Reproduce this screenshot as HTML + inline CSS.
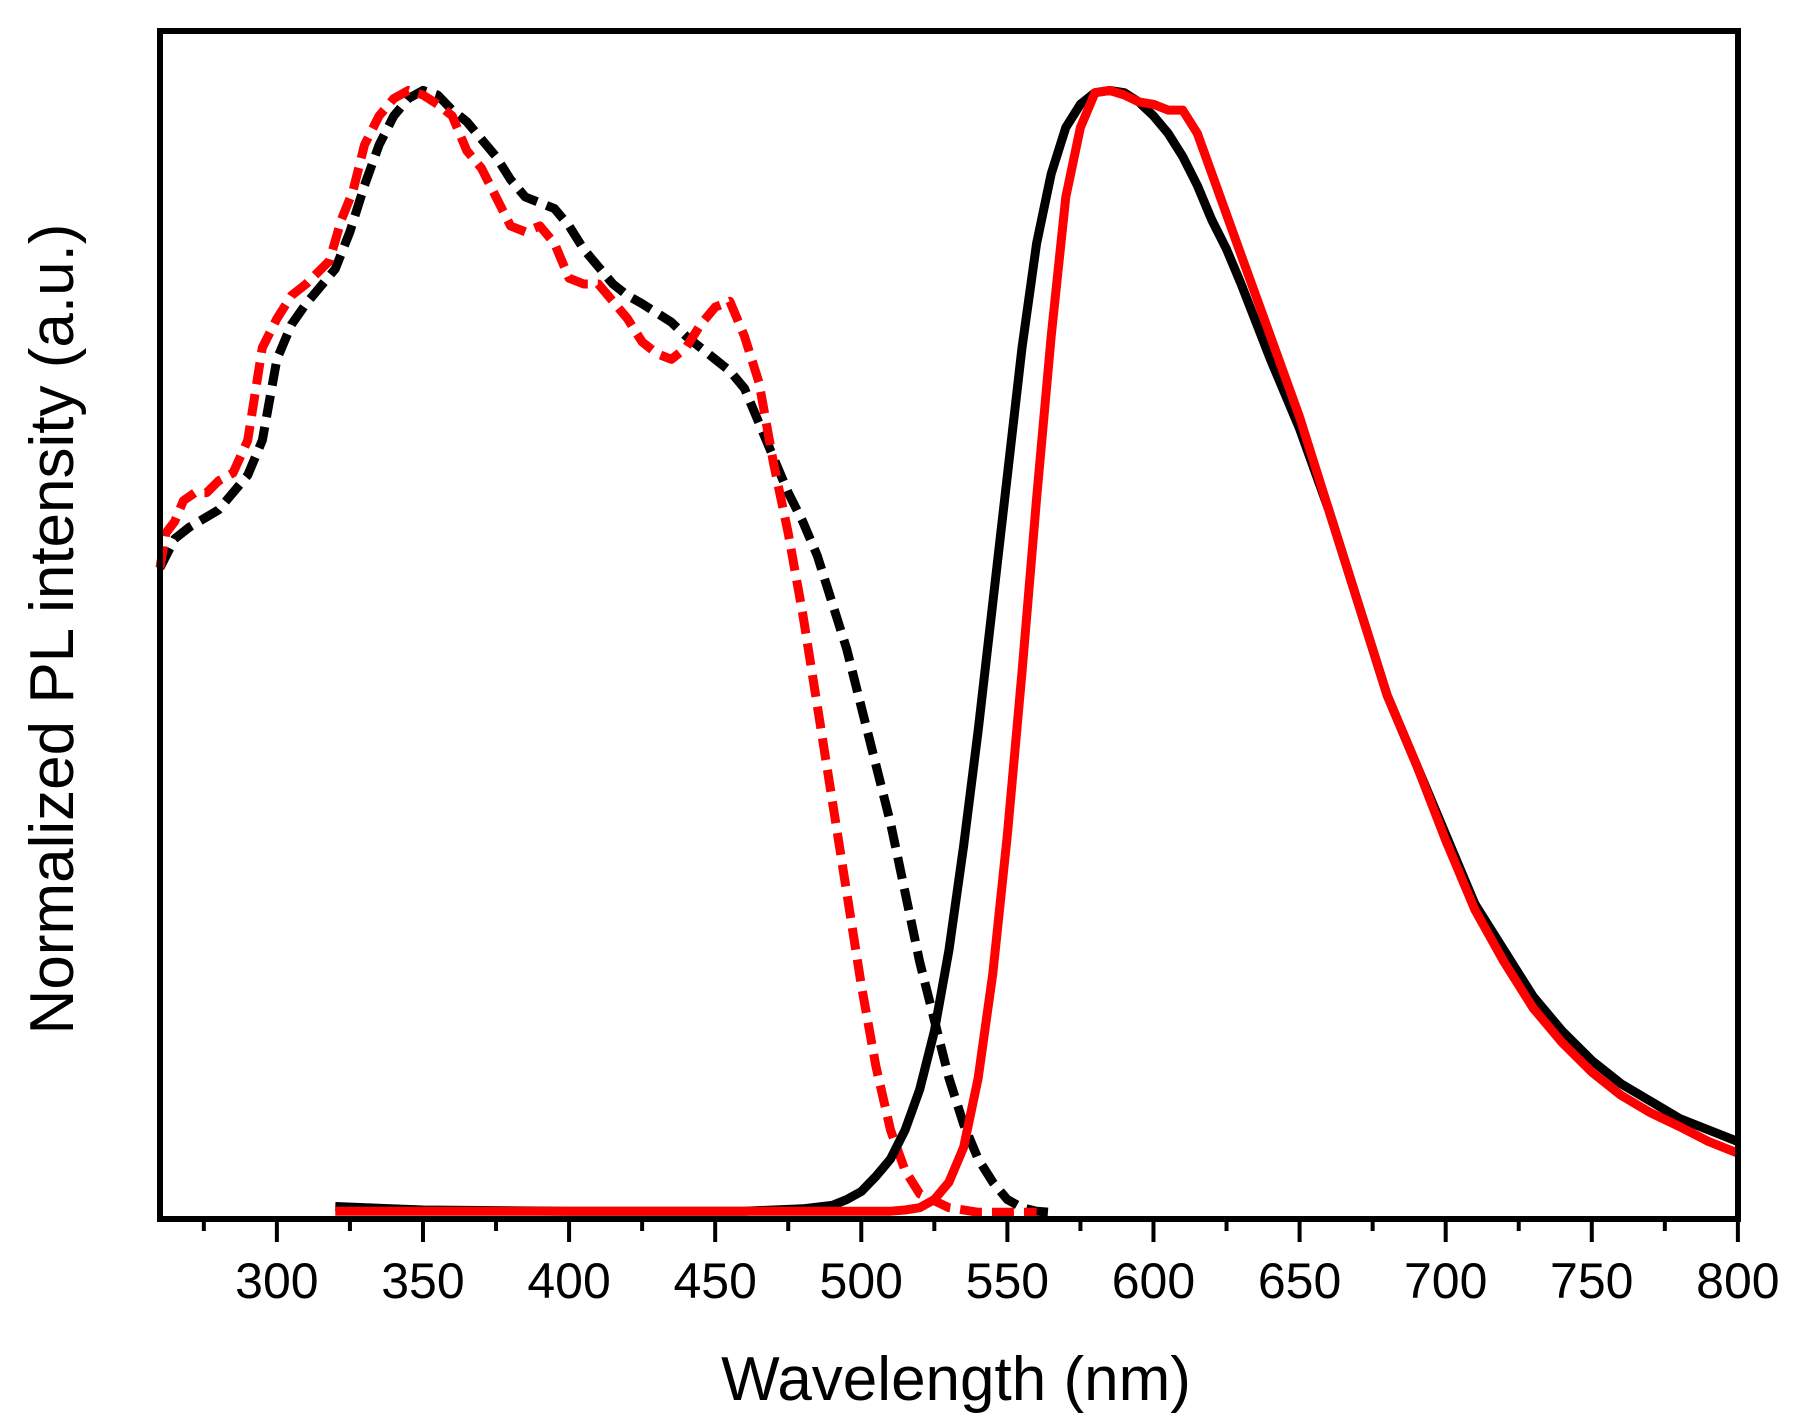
<!DOCTYPE html>
<html><head><meta charset="utf-8"><style>
html,body{margin:0;padding:0;background:#fff}
svg{display:block}
text{font-family:"Liberation Sans",Arial,sans-serif;fill:#000}
</style></head><body>
<svg id="s" width="1811" height="1428" viewBox="0 0 1811 1428" xmlns="http://www.w3.org/2000/svg">
<g id="curves" fill="none" stroke-linejoin="round"></g>
<rect x="160" y="31" width="1578" height="1188" fill="none" stroke="#000" stroke-width="6"/>
<g id="ticks" stroke="#000" stroke-width="4"></g>
<g id="labels" font-size="50" text-anchor="middle"></g>
<text x="956" y="1400" font-size="62" text-anchor="middle">Wavelength (nm)</text>
<text transform="translate(73,629) rotate(-90)" font-size="62" text-anchor="middle">Normalized PL intensity (a.u.)</text>
</svg>
<script>
const NS="http://www.w3.org/2000/svg";
const X=nm=>160+(nm-260)*2.922, Y=d=>d*1.159;
function path(pts,color,dash){
  const p=document.createElementNS(NS,"path");
  let d="";
  for(let i=0;i<pts.length;i+=2)d+=(i?"L":"M")+X(pts[i]).toFixed(1)+","+Y(pts[i+1]).toFixed(1);
  p.setAttribute("d",d);p.setAttribute("stroke",color);p.setAttribute("stroke-width","9");
  if(dash){p.setAttribute("stroke-dasharray","22 10");}
  document.getElementById("curves").appendChild(p);
}
const bd=[260,490,265,465,270,455,280,440,290,410,295,380,300,310,305,280,310,262,320,232,325,200,330,160,335,125,340,100,345,85,350,78,355,82,360,95,365,105,370,120,375,135,380,155,385,170,390,175,395,180,400,195,405,215,410,230,415,245,420,255,425,262,430,270,435,278,440,290,445,300,450,310,455,320,460,335,465,365,470,395,475,425,480,450,485,480,490,520,495,560,500,610,505,660,510,710,515,770,520,830,525,880,530,930,535,970,540,1000,545,1020,550,1035,555,1042,560,1045,565,1046];
const rd=[260,490,262,460,265,450,268,432,272,425,276,425,280,415,285,408,290,380,295,300,300,275,305,255,310,245,318,225,322,190,326,165,330,125,335,100,340,85,345,78,350,82,355,90,360,100,365,130,370,145,375,170,380,195,385,200,390,195,395,210,400,240,405,245,410,245,415,260,420,275,425,295,430,305,435,310,440,300,445,280,450,265,455,260,460,290,465,330,470,400,475,460,480,530,485,610,490,690,495,770,500,850,505,920,510,975,515,1010,520,1030,530,1042,540,1046,560,1046];
const bs=[320,1041,350,1044,400,1045,460,1045,480,1043,490,1040,495,1035,500,1028,505,1015,510,1000,515,975,520,940,525,890,530,820,535,730,540,630,545,520,550,410,555,300,560,210,565,150,570,110,575,90,580,80,585,78,590,80,595,88,600,100,605,115,610,135,615,160,620,190,625,215,630,245,640,310,650,370,660,440,670,520,680,600,690,660,700,720,710,780,720,820,730,860,740,890,750,915,760,935,770,950,780,965,790,975,800,985];
const rs=[320,1045,500,1045,510,1045,515,1044,520,1042,525,1035,530,1020,535,990,540,930,545,840,550,720,555,580,560,430,565,290,570,170,575,110,580,80,585,78,590,82,595,88,600,90,605,95,610,95,615,115,620,150,625,185,630,220,640,290,650,360,660,440,670,520,680,600,690,660,700,725,710,785,720,830,730,870,740,900,750,925,760,945,770,960,780,972,790,985,800,995];
path(bd,"#000",true);path(rd,"#f00",true);path(bs,"#000",false);path(rs,"#f00",false);
const tg=document.getElementById("ticks"),lg=document.getElementById("labels");
for(let nm=275;nm<=800;nm+=25){
  const major=nm%50===0,x=X(nm);
  const l=document.createElementNS(NS,"line");
  l.setAttribute("x1",x);l.setAttribute("x2",x);l.setAttribute("y1",1219);l.setAttribute("y2",major?1242:1231);
  tg.appendChild(l);
  if(major){const t=document.createElementNS(NS,"text");t.setAttribute("x",x);t.setAttribute("y",1298);t.textContent=nm;lg.appendChild(t);}
}
</script>
</body></html>
